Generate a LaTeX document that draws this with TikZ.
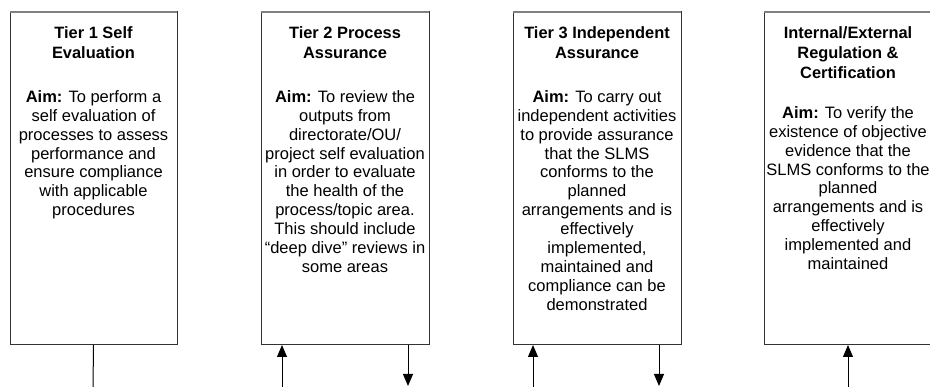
\documentclass[tikz,border=0pt]{standalone}
\usepackage{fontspec}
\setmainfont{Liberation Sans}
\usetikzlibrary{arrows.meta}
\begin{document}
\begin{tikzpicture}[x=1pt,y=-1pt,
  tierbox/.style={draw=black!80,line width=1pt},
  topedge/.style={draw=black!50,line width=1.8pt},
  titletext/.style={anchor=north,align=center,inner sep=0pt,
    font=\fontsize{16.4}{20}\selectfont\bfseries},
  bodytext/.style={anchor=north,align=center,inner sep=0pt,
    font=\fontsize{16.5}{18.9}\selectfont},
  link/.style={draw=black,line width=1pt},
  uparrow/.style={link,-{Triangle[length=12pt,width=10pt]}},
  downarrow/.style={link,-{Triangle[length=12pt,width=10pt]}}]
\useasboundingbox (0,0) rectangle (930,387);
\clip (0,0) rectangle (930,387);

% the four assurance tiers
\foreach \n/\l/\r in {1/10/177,2/261/429,3/513/681,4/764/932}{
  \path[tierbox] (\l,12) rectangle (\r,345);
  \draw[topedge] (\l,12) -- (\r,12);
  \coordinate (bx\n) at ({(\l+\r)/2},345);
}

\node[titletext] (t1) at (93.5,26.2) {Tier 1 Self\\Evaluation};
\node[bodytext] (b1) at (93.5,90.2) {\textbf{Aim:} To perform a\\self evaluation of\\processes to assess\\performance and\\ensure compliance\\with applicable\\procedures};

\node[titletext] (t2) at (345,26.2) {Tier 2 Process\\Assurance};
\node[bodytext] (b2) at (345,90.2) {\textbf{Aim:} To review the\\outputs from\\directorate/OU/\\project self evaluation\\in order to evaluate\\the health of the\\process/topic area.\\This should include\\“deep dive” reviews in\\some areas};

\node[titletext] (t3) at (597,26.2) {Tier 3 Independent\\Assurance};
\node[bodytext] (b3) at (597,90.2) {\textbf{Aim:} To carry out\\independent activities\\to provide assurance\\that the SLMS\\conforms to the\\planned\\arrangements and is\\effectively\\implemented,\\maintained and\\compliance can be\\demonstrated};

\node[titletext] (t4) at (848,26.2) {Internal/External\\Regulation \&\\Certification};
\node[bodytext] (b4) at (848,106.2) {\textbf{Aim:} To verify the\\existence of objective\\evidence that the\\SLMS conforms to the\\planned\\arrangements and is\\effectively\\implemented and\\maintained};

% connectors leaving the lower edges
\coordinate (e1) at (93,388);
\coordinate (u2) at (282,388);
\coordinate (d2) at (408,386);
\coordinate (u3) at (533,388);
\coordinate (d3) at (659,386);
\coordinate (u4) at (848,388);

\draw[link] (bx1) -- (e1);
\draw[uparrow] (u2) -- (u2 |- bx2);
\draw[downarrow] (d2 |- bx2) -- (d2);
\draw[uparrow] (u3) -- (u3 |- bx3);
\draw[downarrow] (d3 |- bx3) -- (d3);
\draw[uparrow] (u4) -- (bx4);
\end{tikzpicture}
\end{document}
